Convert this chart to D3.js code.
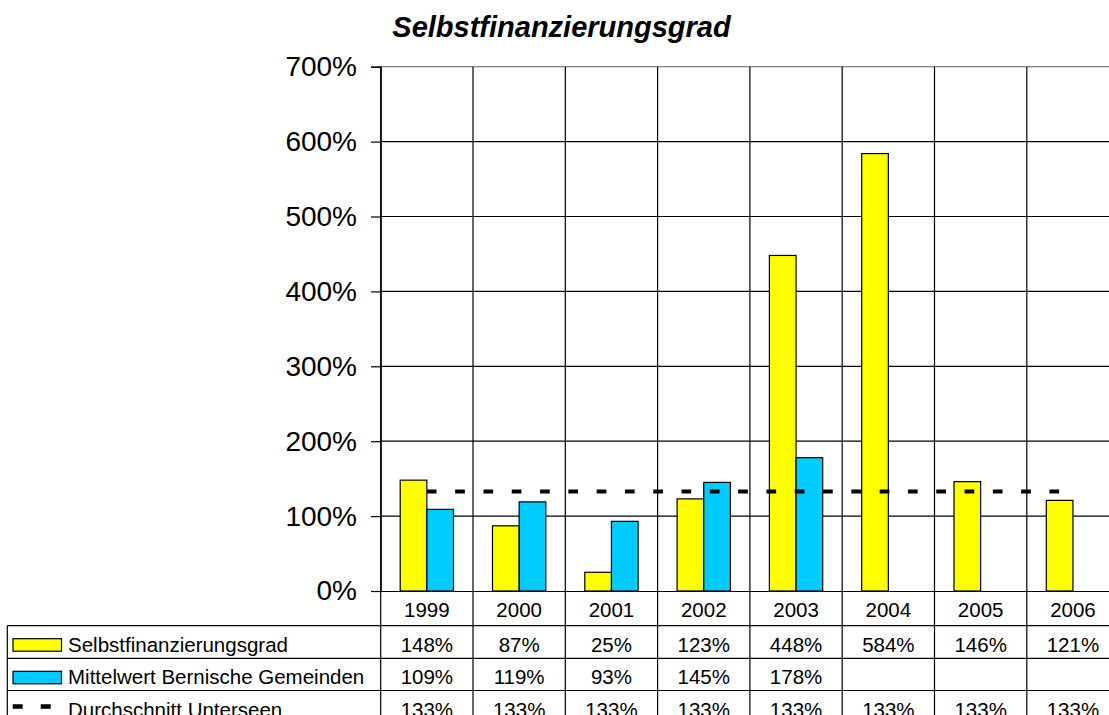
<!DOCTYPE html>
<html>
<head>
<meta charset="utf-8">
<script src="https://cdn.jsdelivr.net/npm/d3@7"></script>
<style>
  body { margin: 0; background: #fff; }
  svg { display: block; font-family: "Liberation Sans", Arial, sans-serif; }
</style>
</head>
<body>
<svg id="chart" width="1109" height="715"></svg>
<script>
const years       = ['1999', '2000', '2001', '2002', '2003', '2004', '2005', '2006']
const selbstValues = [148, 87, 25, 123, 448, 584, 146, 121]
const mittelValues = [109, 119, 93, 145, 178, null, null, null]
const avgValues    = [133, 133, 133, 133, 133, 133, 133, 133]
const yTicks       = [0, 100, 200, 300, 400, 500, 600, 700]

const seriesNames = ['Selbstfinanzierungsgrad', 'Mittelwert Bernische Gemeinden', 'Durchschnitt Unterseen']

const W = 1109, H = 715
const plotLeft = 380.7, plotTop = 66.7, plotBottom = 591
const colW = 92.3
const plotRight = plotLeft + colW * years.length
const rowTops = [625.7, 658.3, 690.5]
const tableLeft = 7.3

const svg = d3.select('#chart')

const x = d3.scaleBand().domain(years).range([plotLeft, plotRight]).padding(0)
const y = d3.scaleLinear().domain([0, 700]).range([plotBottom, plotTop])
const groupW = 53.3
const inner = d3.scaleBand().domain(['s', 'm']).range([0, groupW]).padding(0)
const groupOff = (x.bandwidth() - groupW) / 2

// title
svg.append('text')
  .attr('x', 561.5).attr('y', 37)
  .attr('text-anchor', 'middle')
  .attr('font-size', '29px').attr('font-weight', 'bold').attr('font-style', 'italic')
  .text('Selbstfinanzierungsgrad')

// horizontal gridlines
svg.append('g').selectAll('line').data(yTicks.filter(t => t > 0)).join('line')
  .attr('x1', plotLeft).attr('x2', plotRight)
  .attr('y1', d => y(d)).attr('y2', d => y(d))
  .attr('stroke', d => d === 700 ? '#808080' : '#000').attr('stroke-width', 1.2)

// vertical category lines (plot + table)
const bounds = years.map(d => x(d)).concat([plotRight])
svg.append('g').selectAll('line').data(bounds).join('line')
  .attr('x1', d => d).attr('x2', d => d)
  .attr('y1', plotTop).attr('y2', H)
  .attr('stroke', '#000').attr('stroke-width', 1.2)

// table horizontal lines + left border
svg.append('g').selectAll('line').data(rowTops).join('line')
  .attr('x1', tableLeft).attr('x2', plotRight)
  .attr('y1', d => d).attr('y2', d => d)
  .attr('stroke', '#000').attr('stroke-width', 1.2)
svg.append('line')
  .attr('x1', tableLeft).attr('x2', tableLeft)
  .attr('y1', rowTops[0]).attr('y2', H)
  .attr('stroke', '#000').attr('stroke-width', 1.2)

// bars
const barData = []
years.forEach((yr, i) => {
  barData.push({ yr, key: 's', v: selbstValues[i] })
  if (mittelValues[i] != null) barData.push({ yr, key: 'm', v: mittelValues[i] })
})
svg.append('g').selectAll('rect').data(barData).join('rect')
  .attr('x', d => x(d.yr) + groupOff + inner(d.key))
  .attr('width', inner.bandwidth())
  .attr('y', d => y(d.v))
  .attr('height', d => y(0) - y(d.v))
  .attr('fill', d => d.key === 's' ? '#ffff00' : '#00ccff')
  .attr('stroke', '#000').attr('stroke-width', 1.2)

// average dashed line
const line = d3.line()
  .x((d, i) => x(years[i]) + x.bandwidth() / 2)
  .y(d => y(d))
svg.append('path').datum(avgValues)
  .attr('d', line)
  .attr('fill', 'none').attr('stroke', '#000')
  .attr('stroke-width', 4).attr('stroke-dasharray', '9.7,18.6')

// y axis
const yAxis = svg.append('g').attr('transform', `translate(${plotLeft},0)`)
  .call(d3.axisLeft(y).tickValues(yTicks).tickFormat(d => d + '%').tickSize(9.7).tickPadding(14))
yAxis.select('.domain').attr('stroke', '#000').attr('stroke-width', 1.2)
yAxis.selectAll('.tick line').attr('stroke', '#000').attr('stroke-width', 1.2)
yAxis.selectAll('text').attr('font-size', '28px').attr('fill', '#000')
  .attr('font-family', '"Liberation Sans", Arial, sans-serif')

// x axis (category row)
const xAxis = svg.append('g').attr('transform', `translate(0,${plotBottom})`)
  .call(d3.axisBottom(x).tickSize(0).tickSizeOuter(0).tickPadding(11))
xAxis.select('.domain').attr('stroke', '#000').attr('stroke-width', 1.2)
xAxis.selectAll('text').attr('font-size', '20.5px').attr('fill', '#000')
  .attr('font-family', '"Liberation Sans", Arial, sans-serif')

// table rows
const rows = [
  { name: seriesNames[0], values: selbstValues, key: 'bar', fill: '#ffff00' },
  { name: seriesNames[1], values: mittelValues, key: 'bar', fill: '#00ccff' },
  { name: seriesNames[2], values: avgValues,    key: 'line' },
]
rows.forEach((r, ri) => {
  const top = rowTops[ri]
  const g = svg.append('g')
  if (r.key === 'bar') {
    g.append('rect')
      .attr('x', 13).attr('y', top + 13).attr('width', 48.5).attr('height', 12.5)
      .attr('fill', r.fill).attr('stroke', '#000').attr('stroke-width', 1.2)
  } else {
    g.append('line')
      .attr('x1', 12.7).attr('x2', 62).attr('y1', top + 16).attr('y2', top + 16)
      .attr('stroke', '#000').attr('stroke-width', 4.5).attr('stroke-dasharray', '10,18')
  }
  g.append('text')
    .attr('x', 68).attr('y', top + 26)
    .attr('font-size', '20.5px')
    .text(r.name)
  g.selectAll('text.val').data(r.values.map((v, i) => ({ v, yr: years[i] })).filter(d => d.v != null))
    .join('text').attr('class', 'val')
    .attr('x', d => x(d.yr) + x.bandwidth() / 2)
    .attr('y', top + 26)
    .attr('text-anchor', 'middle')
    .attr('font-size', '20.5px')
    .text(d => d.v + '%')
})
</script>
</body>
</html>
